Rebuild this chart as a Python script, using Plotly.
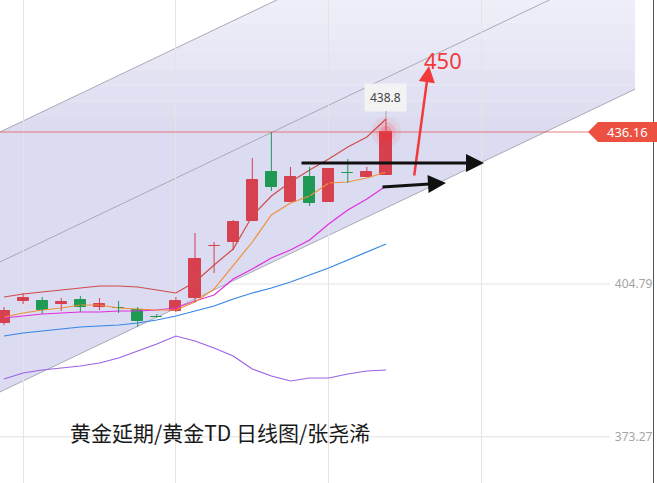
import plotly.graph_objects as go

# ---------------- data ----------------
idx = list(range(21))
open_ = [396.75, 401.29, 401.29, 400.67, 401.49, 400.05, 399.90, 399.43, 398.00, 399.22, 401.90,
         412.55, 413.46, 417.79, 427.91, 421.72, 426.87, 421.72, 427.75, 426.87, 427.29]
high = [400.05, 402.94, 402.11, 401.90, 402.32, 401.90, 401.29, 400.05, 398.60, 402.11, 415.32,
        413.46, 418.00, 430.79, 436.16, 428.94, 428.94, 428.60, 430.59, 428.94, 438.84]
low = [396.30, 400.67, 398.60, 399.22, 399.02, 399.43, 398.81, 395.92, 397.80, 399.02, 401.08,
       407.06, 411.81, 417.79, 423.99, 421.72, 420.89, 421.72, 425.64, 426.87, 427.29]
close = [399.22, 401.90, 399.43, 401.08, 400.05, 400.67, 399.80, 397.16, 397.95, 401.29, 409.95,
         412.70, 417.59, 426.25, 424.81, 426.87, 421.51, 428.52, 427.65, 427.91, 436.16]

ma_red = [402.11, 402.73, 403.14, 403.56, 403.97, 404.38, 404.38, 404.18, 403.56, 402.94, 405.21,
          408.72, 412.02, 418.83, 422.95, 425.84, 428.32, 430.59, 433.06, 435.13, 438.84]
ma_orange = [397.99, 398.81, 399.43, 399.84, 400.46, 400.46, 399.84, 399.64, 399.43, 399.43, 401.08,
             403.76, 408.51, 413.46, 419.03, 421.51, 422.95, 425.64, 425.84, 426.67, 427.91]
ma_magenta = [397.78, 398.19, 398.60, 398.81, 399.02, 399.02, 399.22, 399.22, 399.43, 399.84, 401.29,
              402.52, 405.83, 407.89, 410.16, 411.81, 413.87, 417.18, 420.06, 422.33, 425.02]
ma_blue = [394.06, 394.68, 395.10, 395.51, 395.92, 396.13, 396.33, 396.75, 397.37, 398.19, 399.22,
           400.26, 401.70, 402.94, 403.97, 405.21, 406.65, 408.10, 409.75, 411.40, 413.05]
ma_purple = [385.19, 386.43, 387.05, 387.46, 387.87, 388.49, 389.52, 390.97, 392.41, 394.06, 393.03,
             391.59, 389.94, 387.26, 385.81, 384.78, 385.40, 385.40, 386.22, 386.84, 387.05]

# channel (drawn trend lines): x positions and prices at both ends
chan_x = [-0.21, 33.04]
chan_upper = [436.16, 498.67]
chan_middle = [409.33, 471.84]
chan_lower = [382.51, 444.99]

ytick_vals = [373.27, 404.79]
target_text = "450"
title_text = "黄金延期/黄金TD 日线图/张尧浠"

# ---------------- layout helpers (pixel -> paper) ----------------
PW, PH = 653.0, 483.0
YR = [363.73, 463.40]
def xp(px):
    return px / PW
def yp(py):
    return 1 - py / PH

RED = "#d6404f"
GREEN = "#1f9a55"

fig = go.Figure()
shapes = []

# channel fill as shapes (below grid), banded for a soft vertical gradient
poly = [(chan_x[0], chan_upper[0]), (chan_x[1], chan_upper[1]),
        (chan_x[1], chan_lower[1]), (chan_x[0], chan_lower[0])]

def clip(polygon, lo, hi):
    def clip_half(pts, keep, inter):
        out = []
        n = len(pts)
        for i in range(n):
            a, b = pts[i], pts[(i + 1) % n]
            ka, kb = keep(a), keep(b)
            if ka:
                out.append(a)
            if ka != kb:
                out.append(inter(a, b))
        return out
    def mk(yv):
        def f(a, b):
            t = (yv - a[1]) / (b[1] - a[1])
            return (a[0] + t * (b[0] - a[0]), yv)
        return f
    p = clip_half(polygon, lambda q: q[1] >= lo, mk(lo))
    if p:
        p = clip_half(p, lambda q: q[1] <= hi, mk(hi))
    return p

def mix(c1, c2, t):
    return "rgb(%d,%d,%d)" % tuple(round(c1[k] + (c2[k] - c1[k]) * t) for k in range(3))

base_c = (219, 219, 241)
top_c = (243, 243, 250)
edges = [YR[0] - 30, 436.0] + [436.0 + k * (YR[1] + 5 - 436.0) / 10 for k in range(1, 11)]
for k in range(len(edges) - 1):
    lo, hi = edges[k], edges[k + 1]
    p = clip(poly, lo, hi + 0.05)
    if len(p) < 3:
        continue
    t = 0 if k == 0 else (k - 0.5) / 10
    path = "M " + " L ".join(f"{a:.4f},{b:.4f}" for a, b in p) + " Z"
    shapes.append(dict(type="path", xref="x", yref="y", path=path, fillcolor=mix(base_c, top_c, t),
                       line=dict(width=0), layer="below"))

for cy in (chan_upper, chan_middle, chan_lower):
    shapes.append(dict(type="line", xref="x", yref="y", x0=chan_x[0], x1=chan_x[1], y0=cy[0], y1=cy[1],
                       line=dict(color="#a9a9b8", width=1), layer="below"))

# moving-average style lines
for ys, col in ((ma_purple, "#9a62e6"), (ma_blue, "#3585e6"), (ma_magenta, "#e22de0"),
                (ma_orange, "#f0913a"), (ma_red, "#cf4d4a")):
    fig.add_trace(go.Scatter(x=idx, y=ys, mode="lines", line=dict(color=col, width=1.2),
                             hoverinfo="skip", showlegend=False))

# glow at last price
for s, a in ((30, 0.07), (20, 0.12), (12, 0.2)):
    fig.add_trace(go.Scatter(x=[idx[-1]], y=[close[-1]], mode="markers",
                             marker=dict(size=s, color=f"rgba(255,40,40,{a})", line=dict(width=0)),
                             hoverinfo="skip", showlegend=False))

# candles: wicks (per colour) + bodies (bars)
up = [c >= o for o, c in zip(open_, close)]
cols = [RED if u else GREEN for u in up]
for colr, flag in ((RED, True), (GREEN, False)):
    wx, wy = [], []
    for i, u in enumerate(up):
        if u == flag:
            wx += [idx[i], idx[i], None]
            wy += [low[i], high[i], None]
    fig.add_trace(go.Scatter(x=wx, y=wy, mode="lines", line=dict(color=colr, width=1),
                             hoverinfo="skip", showlegend=False))
fig.add_trace(go.Bar(
    x=idx, y=[abs(c - o) for o, c in zip(open_, close)], base=[min(o, c) for o, c in zip(open_, close)],
    width=0.58, marker=dict(color=cols, line=dict(color=cols, width=1)),
    hoverinfo="skip", showlegend=False))

for v in ytick_vals:
    shapes.append(dict(type="line", xref="paper", yref="y", x0=0, x1=xp(610), y0=v, y1=v,
                       line=dict(color="#e2e2e2", width=1), layer="below"))
shapes.append(dict(type="line", xref="paper", yref="y", x0=0, x1=xp(590), y0=close[-1], y1=close[-1],
                   line=dict(color="rgba(226,80,80,0.75)", width=1)))
pts = [(588, 132), (598, 122), (657, 122), (657, 142), (598, 142)]
path = "M " + " L ".join(f"{xp(a):.4f},{yp(b):.4f}" for a, b in pts) + " Z"
shapes.append(dict(type="path", xref="paper", yref="paper", path=path,
                   fillcolor="#ec5040", line=dict(width=0)))

annotations = [
    dict(x=xp(627), y=yp(132), xref="paper", yref="paper", text=f"{close[-1]:.2f}", showarrow=False,
         font=dict(color="white", size=13, family="Noto Sans"), xanchor="center", yanchor="middle"),
    dict(x=idx[-1], y=high[-1], xref="x", yref="y", text=f"{high[-1]:.1f}", showarrow=True,
         ax=0, ay=-22, arrowhead=0, arrowwidth=1, arrowcolor="#b0a0a0",
         bgcolor="rgba(243,243,243,0.95)", borderpad=5, font=dict(size=12, color="#444", family="Noto Sans")),
    dict(x=xp(443), y=yp(60), xref="paper", yref="paper", text=target_text, showarrow=False,
         font=dict(size=22, color="#f23a3a", family="Noto Sans"), xanchor="center", yanchor="middle"),
    dict(x=xp(429), y=yp(66), xref="paper", yref="paper", text="", showarrow=True,
         ax=-15, ay=111, arrowhead=2, arrowsize=1.3, arrowwidth=2.5, arrowcolor="#f23a3a", standoff=0),
    dict(x=xp(484), y=yp(163), xref="paper", yref="paper", text="", showarrow=True,
         ax=-184, ay=0, arrowhead=2, arrowsize=1.2, arrowwidth=3, arrowcolor="#111", standoff=0),
    dict(x=xp(446), y=yp(183), xref="paper", yref="paper", text="", showarrow=True,
         ax=-65, ay=4, arrowhead=2, arrowsize=1.2, arrowwidth=3, arrowcolor="#111", standoff=0),
    dict(x=xp(68), y=yp(432), xref="paper", yref="paper", text=title_text, showarrow=False,
         xanchor="left", yanchor="middle", font=dict(size=21, color="#1a1a1a", family="Noto Sans CJK SC")),
]

fig.update_layout(
    width=657, height=483,
    margin=dict(l=0, r=4, t=0, b=0),
    paper_bgcolor="white", plot_bgcolor="white",
    showlegend=False, bargap=0,
    shapes=shapes, annotations=annotations,
    xaxis=dict(range=[-0.209, 33.98], tickvals=[1, 9, 17, 25, 33], showticklabels=False,
               showgrid=True, gridcolor="#e4e4e4", gridwidth=1, zeroline=False, ticks="",
               showline=False, fixedrange=True),
    yaxis=dict(range=YR, side="right", tickvals=ytick_vals,
               ticktext=[f"{v:.2f}" for v in ytick_vals], ticklabelposition="inside",
               tickfont=dict(size=12, color="#a5a5a5", family="Noto Sans"), showgrid=False,
               zeroline=False, ticks="", showline=True, linecolor="#555", linewidth=1, fixedrange=True),
)

fig.write_html("out.html", config={"displayModeBar": False},
               post_script="document.body.style.margin='0';document.body.style.overflow='hidden';")
